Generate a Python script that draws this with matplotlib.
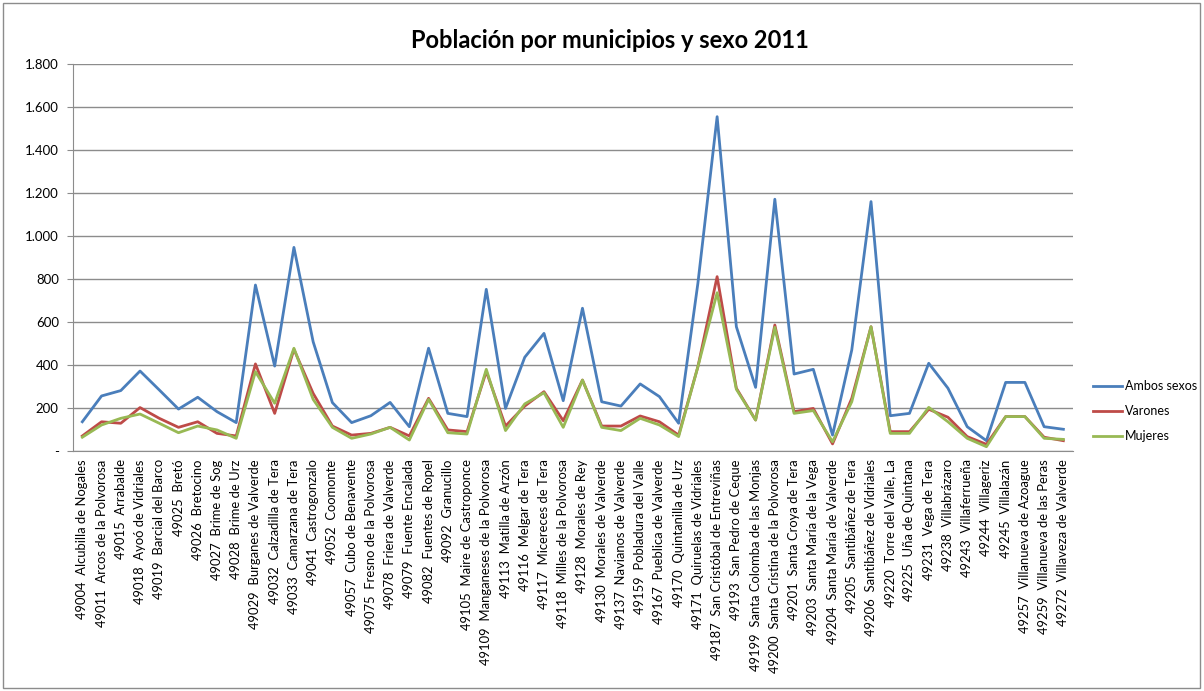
import matplotlib.pyplot as plt
from matplotlib.patches import Rectangle
from matplotlib.ticker import FuncFormatter, MultipleLocator

plt.rcParams['font.family'] = ['Lato', 'DejaVu Sans']

municipios = [
    "49004  Alcubilla de Nogales", "49011  Arcos de la Polvorosa", "49015  Arrabalde",
    "49018  Ayoó de Vidriales", "49019  Barcial del Barco", "49025  Bretó",
    "49026  Bretocino", "49027  Brime de Sog", "49028  Brime de Urz",
    "49029  Burganes de Valverde", "49032  Calzadilla de Tera", "49033  Camarzana de Tera",
    "49041  Castrogonzalo", "49052  Coomonte", "49057  Cubo de Benavente",
    "49075  Fresno de la Polvorosa", "49078  Friera de Valverde", "49079  Fuente Encalada",
    "49082  Fuentes de Ropel", "49092  Granucillo", "49105  Maire de Castroponce",
    "49109  Manganeses de la Polvorosa", "49113  Matilla de Arzón", "49116  Melgar de Tera",
    "49117  Micereces de Tera", "49118  Milles de la Polvorosa", "49128  Morales de Rey",
    "49130  Morales de Valverde", "49137  Navianos de Valverde", "49159  Pobladura del Valle",
    "49167  Pueblica de Valverde", "49170  Quintanilla de Urz", "49171  Quiruelas de Vidriales",
    "49187  San Cristóbal de Entreviñas", "49193  San Pedro de Ceque",
    "49199  Santa Colomba de las Monjas", "49200  Santa Cristina de la Polvorosa",
    "49201  Santa Croya de Tera", "49203  Santa María de la Vega",
    "49204  Santa María de Valverde", "49205  Santibáñez de Tera",
    "49206  Santibáñez de Vidriales", "49220  Torre del Valle, La", "49225  Uña de Quintana",
    "49231  Vega de Tera", "49238  Villabrázaro", "49243  Villaferrueña",
    "49244  Villageriz", "49245  Villalazán", "49257  Villanueva de Azoague",
    "49259  Villanueva de las Peras", "49272  Villaveza de Valverde",
]

ambos = [136, 256, 281, 372, 284, 195, 250, 183, 132, 772, 395, 947, 508, 225, 132, 164,
         226, 113, 478, 175, 160, 752, 198, 436, 547, 234, 664, 229, 209, 312, 253, 129,
         780, 1555, 578, 296, 1171, 358, 380, 74, 470, 1160, 164, 175, 408, 292, 113, 48,
         319, 319, 113, 101]
varones = [70, 136, 129, 202, 152, 110, 136, 82, 70, 405, 175, 473, 268, 116, 74, 82,
           110, 70, 245, 98, 90, 370, 116, 209, 276, 141, 330, 116, 116, 163, 136, 74,
           392, 811, 292, 144, 586, 183, 198, 33, 245, 578, 90, 90, 194, 157, 67, 31,
           160, 160, 64, 48]
mujeres = [64, 121, 152, 172, 129, 85, 116, 98, 59, 369, 222, 478, 240, 110, 59, 79,
           110, 51, 240, 85, 79, 380, 95, 219, 271, 110, 330, 110, 95, 152, 121, 67,
           392, 736, 287, 144, 575, 175, 188, 43, 229, 578, 82, 82, 203, 136, 59, 20,
           160, 160, 59, 54]

series = [("Ambos sexos", ambos, "#4A7EBB"),
          ("Varones", varones, "#BE4B48"),
          ("Mujeres", mujeres, "#98B954")]

fig = plt.figure(figsize=(12.04, 6.91), dpi=100)
ax = fig.add_axes([72.7 / 1204, 1 - 451 / 691, (1073 - 72.7) / 1204, (451 - 64) / 691])

x = list(range(len(municipios)))
for name, vals, color in series:
    ax.plot(x, vals, color=color, lw=2.0, label=name, solid_joinstyle="round")

ax.set_xlim(-0.5, len(municipios) - 0.5)
ax.set_ylim(0, 1800)
ax.yaxis.set_major_locator(MultipleLocator(200))


def miles(v, pos):
    if v == 0:
        return "-"
    return f"{int(v):,}".replace(",", ".")


ax.yaxis.set_major_formatter(FuncFormatter(miles))
ax.grid(axis="y", color="#8c8c8c", lw=1.0)
ax.set_axisbelow(True)

ax.set_xticks(x)
ax.set_xticklabels(municipios, rotation=90, fontsize=9.4)
ax.tick_params(axis="x", length=0, pad=6)
ax.tick_params(axis="y", labelsize=9.5, length=4, color="#8c8c8c", pad=6)

for side in ["top", "right"]:
    ax.spines[side].set_visible(False)
for side in ["left", "bottom"]:
    ax.spines[side].set_color("#8c8c8c")

fig.text(610 / 1204, 1 - 40 / 691, "Población por municipios y sexo 2011",
         ha="center", va="center", fontsize=17, fontweight="bold")

leg = fig.legend(loc="upper left", bbox_to_anchor=(1093 / 1204, 1 - 380 / 691),
                 frameon=False, fontsize=9, handlelength=2.3, handletextpad=0.25,
                 labelspacing=1.05, borderpad=0, borderaxespad=0)

fig.patches.append(Rectangle((3 / 1204, 3 / 691), 1197 / 1204, 685 / 691,
                             transform=fig.transFigure, fill=False,
                             edgecolor="#8c8c8c", lw=1.0))

fig.savefig("out.png", dpi=100)
